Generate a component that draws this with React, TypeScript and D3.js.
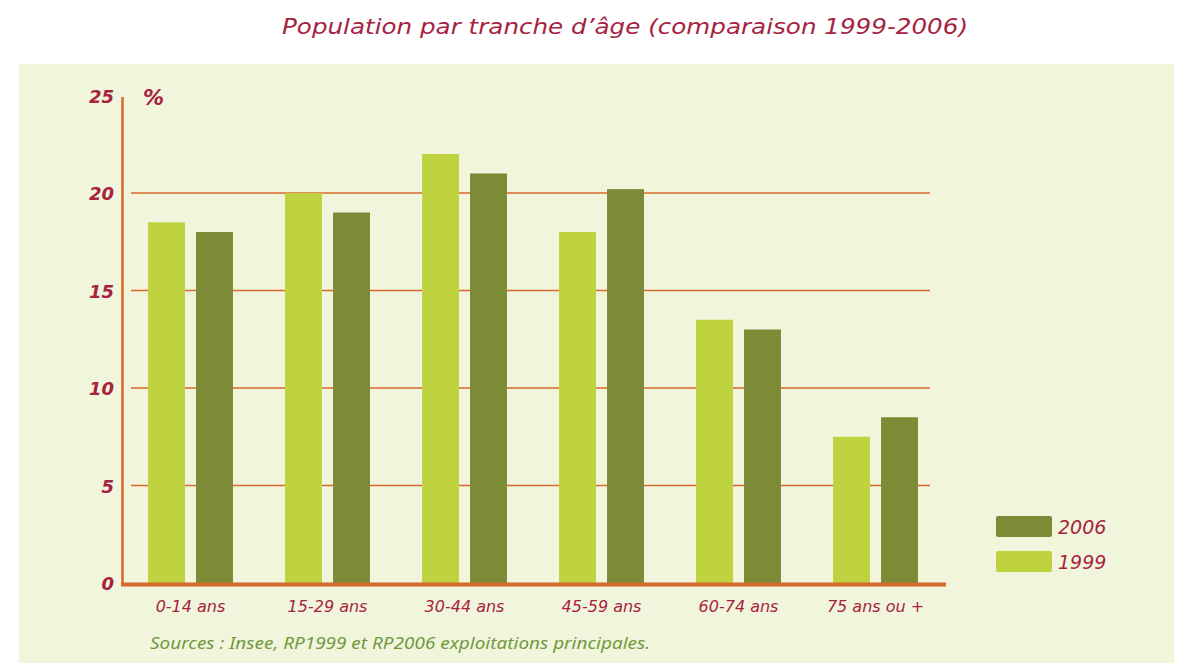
import React, { useEffect, useRef } from "react";
import * as d3 from "d3";

const categories = ["0-14 ans", "15-29 ans", "30-44 ans", "45-59 ans", "60-74 ans", "75 ans ou +"];
const values1999 = [18.5, 20, 22, 18, 13.5, 7.5];
const values2006 = [18, 19, 21, 20.2, 13, 8.5];
const yTicks = [0, 5, 10, 15, 20, 25];
const seriesNames = ["1999", "2006"];

const W = 1181;
const H = 666;
const RED = "#a6233f";
const ORANGE = "#d8692a";
const C1999 = "#bfd340";
const C2006 = "#7d8b37";
const HAND = "'Comic Sans MS', 'DejaVu Sans', sans-serif";

export default function App() {
  const ref = useRef<SVGSVGElement>(null);

  useEffect(() => {
    const svg = d3.select(ref.current);
    svg.selectAll("*").remove();

    // panel background
    svg.append("rect")
      .attr("x", 19).attr("y", 64)
      .attr("width", 1155).attr("height", 599)
      .attr("fill", "#f1f5dc");

    svg.append("text")
      .attr("x", 282).attr("y", 34)
      .attr("font-family", HAND)
      .attr("font-style", "italic")
      .attr("font-size", 22)
      .attr("fill", RED)
      .attr("textLength", 686)
      .attr("lengthAdjust", "spacingAndGlyphs")
      .text("Population par tranche d\u2019\u00e2ge (comparaison 1999-2006)");

    const y = d3.scaleLinear().domain([0, 25]).range([583, 95.5]);
    const x0 = d3.scaleBand().domain(categories).range([122, 944]).paddingInner(0.38).paddingOuter(0.19);
    const x1 = d3.scaleBand().domain(seriesNames).range([0, x0.bandwidth()]).paddingInner(0.23);

    // gridlines
    svg.append("g").selectAll("line")
      .data(yTicks.filter(t => t > 0 && t < 25))
      .enter().append("line")
      .attr("x1", 131).attr("x2", 930)
      .attr("y1", d => y(d)).attr("y2", d => y(d))
      .attr("stroke", ORANGE).attr("stroke-width", 1.5);

    // y tick labels
    svg.append("g").selectAll("text")
      .data(yTicks)
      .enter().append("text")
      .attr("x", 114)
      .attr("y", d => y(d) + 7)
      .attr("text-anchor", "end")
      .attr("font-family", HAND)
      .attr("font-style", "italic")
      .attr("font-weight", "bold")
      .attr("font-size", 18)
      .attr("fill", RED)
      .text(d => d);

    svg.append("text")
      .attr("x", 143).attr("y", 105)
      .attr("font-family", HAND)
      .attr("font-style", "italic")
      .attr("font-weight", "bold")
      .attr("font-size", 21)
      .attr("fill", RED)
      .text("%");

    const rows = categories.map((c, i) => ({ c, v: [values1999[i], values2006[i]] }));
    const groups = svg.append("g").selectAll("g")
      .data(rows)
      .enter().append("g")
      .attr("transform", d => `translate(${x0(d.c)},0)`);

    groups.selectAll("rect")
      .data(d => d.v.map((v, k) => ({ k: seriesNames[k], v })))
      .enter().append("rect")
      .attr("x", d => x1(d.k)!)
      .attr("y", d => y(d.v))
      .attr("width", x1.bandwidth())
      .attr("height", d => y(0) - y(d.v))
      .attr("fill", d => (d.k === "1999" ? C1999 : C2006));

    // axes lines
    svg.append("line")
      .attr("x1", 122.5).attr("x2", 122.5)
      .attr("y1", 97).attr("y2", 585)
      .attr("stroke", ORANGE).attr("stroke-width", 2.5);
    svg.append("line")
      .attr("x1", 121).attr("x2", 946)
      .attr("y1", 584.5).attr("y2", 584.5)
      .attr("stroke", ORANGE).attr("stroke-width", 4);

    // category labels
    svg.append("g").selectAll("text")
      .data(categories)
      .enter().append("text")
      .attr("x", d => x0(d)! + x0.bandwidth() / 2)
      .attr("y", 612)
      .attr("text-anchor", "middle")
      .attr("font-family", HAND)
      .attr("font-style", "italic")
      .attr("font-size", 16)
      .attr("fill", RED)
      .text(d => d);

    svg.append("text")
      .attr("x", 150).attr("y", 649)
      .attr("font-family", "'Noto Sans', sans-serif")
      .attr("font-style", "italic")
      .attr("font-size", 17)
      .attr("fill", "#6f9a3e")
      .attr("textLength", 500)
      .attr("lengthAdjust", "spacingAndGlyphs")
      .text("Sources : Insee, RP1999 et RP2006 exploitations principales.");

    // legend
    const legend = [
      { name: "2006", color: C2006, y: 516 },
      { name: "1999", color: C1999, y: 551 },
    ];
    const lg = svg.append("g").selectAll("g")
      .data(legend)
      .enter().append("g")
      .attr("transform", d => `translate(996,${d.y})`);
    lg.append("rect")
      .attr("width", 56).attr("height", 21).attr("rx", 2)
      .attr("fill", d => d.color);
    lg.append("text")
      .attr("x", 62).attr("y", 18)
      .attr("font-family", HAND)
      .attr("font-style", "italic")
      .attr("font-size", 19)
      .attr("fill", RED)
      .text(d => d.name);
  }, []);

  return (
    <svg ref={ref} width={W} height={H}
      style={{ position: "absolute", left: 0, top: 0, background: "#ffffff" }} />
  );
}
